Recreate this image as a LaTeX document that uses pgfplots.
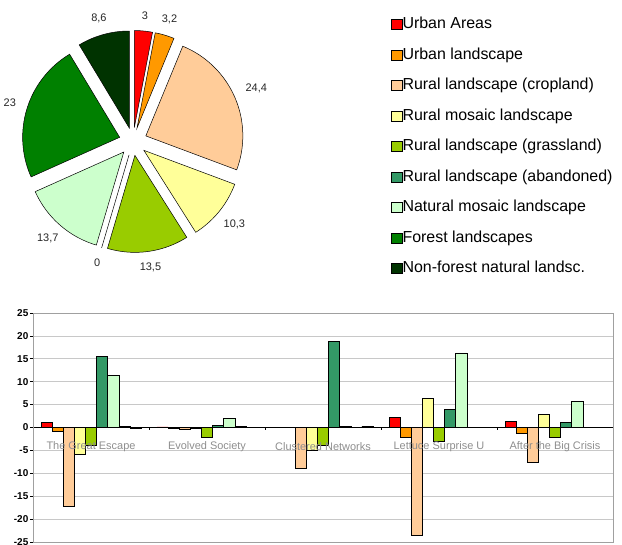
\documentclass[border=0pt]{standalone}
\usepackage{pgfplots}
\usepackage{pgfplotstable}
\pgfplotsset{compat=1.18}
\usepackage{fontspec}
\setmainfont{Liberation Sans}

% land-use class colours
\definecolor{cUrbA}{HTML}{FF0000}
\definecolor{cUrbL}{HTML}{FF9900}
\definecolor{cCrop}{HTML}{FFCC99}
\definecolor{cRMos}{HTML}{FFFF99}
\definecolor{cGras}{HTML}{99CC00}
\definecolor{cAban}{HTML}{339966}
\definecolor{cNMos}{HTML}{CCFFCC}
\definecolor{cFor}{HTML}{008000}
\definecolor{cNonF}{HTML}{003300}
\definecolor{labgray}{HTML}{8E8E8E}
\definecolor{gridgray}{HTML}{C8C8C8}
\definecolor{framegray}{HTML}{A0A0A0}

% change per scenario (percentage points), one row per scenario
\pgfplotstableread{
x   urbA  urbL  crop   rmos  gras  aban  nmos  forest nonf
0.5 1.2  -0.9  -17.2  -5.9  -3.9  15.5  11.4  0.2   -0.1
1.5 0.15 -0.1  -0.3   -0.1  -2.1   0.5   2.0  0.2    0.0
2.5 0.0   0.0  -9.0   -5.0  -3.8  18.8   0.2  0.1    0.3
3.5 2.2  -2.2  -23.6   6.3  -3.0   4.0  16.3  0.1    0.1
4.5 1.3  -1.3  -7.5    2.8  -2.2   1.1   5.7  0.1    0.0
}\bardata

% present share of each class (percent), pie order
\def\pievalues{3,3.2,24.4,10.3,13.5,0,13.7,23,8.6}
\def\pietotal{0}
\foreach \v in \pievalues {\pgfmathsetmacro\t{\pietotal+\v}\global\let\pietotal\t}

\newcommand\pieR{97}     % radius
\newcommand\pieE{14}     % explode offset
\newcommand\pieL{121}    % label distance
\def\piestart{90}
\newcommand\pielabelfont{\fontsize{11}{13}\selectfont}

\newcommand\pieslice[3]{%
  \pgfmathsetmacro\psA{\piestart}%
  \pgfmathsetmacro\psB{\piestart-#1/\pietotal*360}%
  \pgfmathsetmacro\psM{(\psA+\psB)/2}%
  \pgfmathsetmacro\psDX{\pieE*cos(\psM)}%
  \pgfmathsetmacro\psDY{\pieE*sin(\psM)}%
  \pgfmathsetmacro\psLX{\pieL*cos(\psM)}%
  \pgfmathsetmacro\psLY{\pieL*sin(\psM)}%
  \pgfmathsetmacro\psAnc{mod(\psM+540,360)}%
  \ifdim #1pt=0pt
    \pgfmathsetmacro\psEX{\psDX+\pieR*cos(\psA)}%
    \pgfmathsetmacro\psEY{\psDY+\pieR*sin(\psA)}%
    \edef\psCmd{\noexpand\addplot[draw=black, line width=0.5pt] coordinates {(\psDX,\psDY) (\psEX,\psEY)};}%
  \else
    \edef\psCmd{\noexpand\addplot[fill=#2, draw=black, line width=0.5pt, domain=\psB:\psA, samples=60]
      ({\psDX+\pieR*cos(x)},{\psDY+\pieR*sin(x)}) -- (axis cs:\psDX,\psDY) -- cycle;}%
  \fi
  \psCmd
  \edef\psCmd{\noexpand\node[font=\noexpand\pielabelfont, text=black!85, anchor=\psAnc, inner sep=1.5bp] at (axis cs:\psLX,\psLY) {#3};}%
  \psCmd
  \global\let\piestart\psB
}

\begin{document}
\begin{tikzpicture}
\useasboundingbox (0,0) rectangle (622bp,545bp);

% ---- pie of present land use ----
\begin{axis}[
  at={(13bp,283.5bp)}, anchor=south west,
  scale only axis, width=240bp, height=240bp,
  xmin=-120, xmax=120, ymin=-120, ymax=120,
  hide axis, clip=false,
]
\pieslice{3}{cUrbA}{3}
\pieslice{3.2}{cUrbL}{3,2}
\pieslice{24.4}{cCrop}{24,4}
\pieslice{10.3}{cRMos}{10,3}
\pieslice{13.5}{cGras}{13,5}
\pieslice{0}{cAban}{0}
\pieslice{13.7}{cNMos}{13,7}
\pieslice{23}{cFor}{23}
\pieslice{8.6}{cNonF}{8,6}
\end{axis}

% ---- scenario changes ----
\begin{axis}[
  axis on top,
  at={(33bp,3bp)}, anchor=south west,
  scale only axis, width=580bp, height=229bp,
  xmin=0, xmax=5, ymin=-25, ymax=25,
  ybar=0pt, bar width=11.1bp,
  ytick={-25,-20,...,25},
  ytick pos=left, tick align=outside, major tick length=3bp,
  ytick style={black, line width=0.6pt},
  yticklabel style={font=\bfseries\fontsize{10}{12}\selectfont, inner xsep=1.5bp},
  /pgf/number format/assume math mode=true,
  xtick={0.5,1.5,...,4.5},
  xticklabels={The Great Escape, Evolved Society, Clustered Networks, Lettuce Surprise U, After the Big Crisis},
  xtick style={draw=none},
  xticklabel style={font=\fontsize{11}{13}\selectfont, text=labgray, anchor=center, yshift=98bp},
  axis line style={framegray, line width=0.7pt},
  every axis plot/.append style={draw=black, line width=0.5pt},
  legend style={at={(0.617,2.291)}, anchor=north west, draw=none, fill=none,
    font=\fontsize{16}{18}\selectfont, row sep=16bp, inner sep=0pt,
    nodes={inner sep=0pt, text height=11bp, text depth=3.5bp}},
  legend cell align=left,
  /tikz/every even column/.append style={column sep=4bp},
  legend image code/.code={\draw[#1, draw=black, line width=0.5pt] (0bp,-4.5bp) rectangle (11bp,5.5bp);},
]
% horizontal grid behind the bars
\pgfplotsinvokeforeach{-20,-15,...,20}{\draw[gridgray, line width=0.7pt] (axis cs:0,#1) -- (axis cs:5,#1);}
\addplot[fill=cUrbA]  table[x=x, y=urbA]{\bardata};
\addplot[fill=cUrbL]  table[x=x, y=urbL]{\bardata};
\addplot[fill=cCrop]  table[x=x, y=crop]{\bardata};
\addplot[fill=cRMos]  table[x=x, y=rmos]{\bardata};
\addplot[fill=cGras]  table[x=x, y=gras]{\bardata};
\addplot[fill=cAban]  table[x=x, y=aban]{\bardata};
\addplot[fill=cNMos]  table[x=x, y=nmos]{\bardata};
\addplot[fill=cFor]   table[x=x, y=forest]{\bardata};
\addplot[fill=cNonF]  table[x=x, y=nonf]{\bardata};
\legend{Urban Areas, Urban landscape, Rural landscape (cropland), Rural mosaic landscape,
  Rural landscape (grassland), Rural landscape (abandoned), Natural mosaic landscape,
  Forest landscapes, Non-forest natural landsc.}
% value axis and zero line with category separators
\draw[black, line width=0.8pt] (axis cs:0,-25) -- (axis cs:0,25);
\draw[black, line width=0.8pt] (axis cs:0,0) -- (axis cs:5,0);
\pgfplotsinvokeforeach{1,...,5}{\draw[black, line width=0.6pt] (axis cs:#1,0) -- ++(0bp,-3bp);}
\end{axis}
\end{tikzpicture}
\end{document}
